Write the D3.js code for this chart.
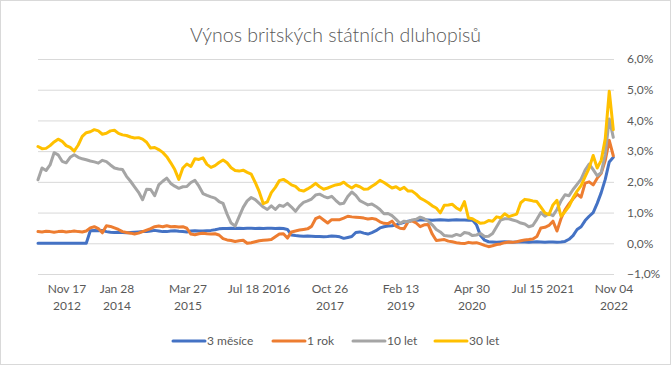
<!DOCTYPE html>
<html>
<head>
<meta charset="utf-8">
<script src="https://cdn.jsdelivr.net/npm/d3@7"></script>
<style>
  body { margin: 0; background: #fff; }
  svg { display: block; font-family: Lato, "Open Sans", sans-serif; }
</style>
</head>
<body>
<svg id="chart" width="671" height="365"></svg>
<script>
// samples are taken every 17 trading days; the first label sits 34 days in
const sampleStep = 17;
const firstLabelDay = 34;
const labelStep = 300;
const totalDays = 2434;

const xLabels = [
  ['Nov 17', '2012'], ['Jan 28', '2014'], ['Mar 27', '2015'], ['Jul 18 2016'],
  ['Oct 26', '2017'], ['Feb 13', '2019'], ['Apr 30', '2020'], ['Jul 15 2021'],
  ['Nov 04', '2022'],
];
const yTicks = [-1, 0, 1, 2, 3, 4, 5, 6];

const seriesNames = ['3 měsíce', '1 rok', '10 let', '30 let'];
const seriesColors = ['#4472C4', '#ED7D31', '#A5A5A5', '#FFC000'];

// výnos v %
const m3 = [
  0, 0, 0, 0, 0, 0, 0, 0, 0, 0, 0, 0, 0, 0.41, 0.42, 0.41, 0.42, 0.38, 0.36, 0.35,
  0.36, 0.35, 0.34, 0.35, 0.36, 0.37, 0.38, 0.38, 0.40, 0.42, 0.40, 0.38, 0.38, 0.40, 0.41, 0.39,
  0.38, 0.37, 0.40, 0.41, 0.40, 0.40, 0.41, 0.42, 0.44, 0.47, 0.48, 0.48, 0.49, 0.48, 0.49, 0.48,
  0.49, 0.49, 0.48, 0.49, 0.48, 0.49, 0.49, 0.48, 0.49, 0.48, 0.45, 0.27, 0.25, 0.24, 0.23, 0.24,
  0.23, 0.22, 0.22, 0.21, 0.22, 0.24, 0.23, 0.21, 0.16, 0.19, 0.22, 0.35, 0.37, 0.33, 0.30, 0.35,
  0.41, 0.50, 0.54, 0.56, 0.57, 0.60, 0.64, 0.68, 0.72, 0.74, 0.75, 0.76, 0.77, 0.76, 0.75, 0.76,
  0.77, 0.76, 0.75, 0.76, 0.77, 0.76, 0.76, 0.75, 0.76, 0.60, 0.25, 0.10, 0.05, 0.04, 0.03, 0.04,
  0.05, 0.04, 0.03, 0.04, 0.05, 0.04, 0.03, 0.04, 0.05, 0.04, 0.03, 0.04, 0.04, 0.03, 0.04, 0.06,
  0.13, 0.25, 0.45, 0.54, 0.74, 0.88, 1.00, 1.30, 1.65, 2.08, 2.65, 2.80,
];
const y1 = [
  0.38, 0.37, 0.39, 0.38, 0.36, 0.38, 0.39, 0.37, 0.38, 0.40, 0.38, 0.37, 0.40, 0.50, 0.54, 0.48,
  0.34, 0.57, 0.55, 0.50, 0.45, 0.38, 0.35, 0.33, 0.30, 0.33, 0.38, 0.43, 0.48, 0.54, 0.56, 0.54,
  0.57, 0.54, 0.55, 0.53, 0.54, 0.49, 0.30, 0.28, 0.31, 0.33, 0.31, 0.30, 0.31, 0.27, 0.15, 0.11,
  0.09, 0.06, 0.08, 0.10, 0.00, 0.02, 0.05, 0.08, 0.10, 0.11, 0.12, 0.21, 0.30, 0.31, 0.17, 0.37,
  0.40, 0.43, 0.45, 0.47, 0.55, 0.80, 0.86, 0.76, 0.66, 0.77, 0.77, 0.77, 0.82, 0.88, 0.86, 0.85,
  0.84, 0.82, 0.79, 0.81, 0.78, 0.70, 0.65, 0.64, 0.72, 0.56, 0.49, 0.47, 0.70, 0.73, 0.66, 0.54,
  0.60, 0.61, 0.30, 0.09, 0.11, 0.12, 0.07, 0.05, 0.02, 0.00, -0.01, 0.03, 0.01, 0.02, -0.02, -0.07,
  -0.11, -0.08, -0.04, -0.02, 0.02, 0.04, 0.03, 0.05, 0.08, 0.11, 0.12, 0.14, 0.22, 0.50, 0.52, 0.58,
  0.72, 0.40, 0.80, 1.09, 1.28, 1.45, 1.60, 1.50, 1.96, 2.00, 1.90, 2.12, 2.28, 2.70, 3.35, 2.85,
];
const y10 = [
  2.07, 2.45, 2.37, 2.55, 2.95, 2.88, 2.67, 2.62, 2.80, 2.88, 2.80, 2.75, 2.72, 2.68, 2.65, 2.61,
  2.70, 2.66, 2.55, 2.45, 2.42, 2.40, 2.18, 2.02, 1.84, 1.66, 1.42, 1.76, 1.75, 1.55, 1.90, 2.02,
  2.12, 1.95, 1.86, 1.79, 1.84, 1.85, 1.98, 2.05, 1.86, 1.62, 1.56, 1.51, 1.47, 1.36, 1.30, 0.95,
  0.66, 0.56, 0.87, 1.17, 1.38, 1.49, 1.42, 1.30, 1.18, 1.10, 1.22, 1.10, 1.24, 1.20, 1.30, 1.18,
  1.04, 1.21, 1.33, 1.38, 1.44, 1.57, 1.60, 1.53, 1.48, 1.53, 1.40, 1.28, 1.30, 1.52, 1.67, 1.56,
  1.39, 1.32, 1.25, 1.28, 1.20, 1.10, 0.96, 0.97, 0.90, 0.78, 0.65, 0.72, 0.70, 0.76, 0.78, 0.85,
  0.80, 0.72, 0.60, 0.45, 0.37, 0.25, 0.24, 0.23, 0.29, 0.25, 0.35, 0.33, 0.25, 0.27, 0.32, 0.22,
  0.23, 0.32, 0.54, 0.76, 0.80, 0.80, 0.76, 0.72, 0.66, 0.63, 0.54, 0.58, 0.78, 1.00, 0.88, 0.96,
  0.90, 1.10, 1.38, 1.58, 1.55, 1.75, 1.92, 2.09, 2.38, 2.58, 2.40, 2.20, 2.30, 2.90, 4.05, 3.45,
];
const y30 = [
  3.15, 3.08, 3.09, 3.18, 3.30, 3.39, 3.32, 3.18, 3.12, 3.00, 3.20, 3.48, 3.60, 3.63, 3.70, 3.66,
  3.55, 3.58, 3.66, 3.68, 3.58, 3.53, 3.51, 3.46, 3.43, 3.44, 3.39, 3.29, 3.10, 3.12, 3.05, 2.96,
  2.82, 2.62, 2.40, 2.08, 2.45, 2.58, 2.50, 2.75, 2.73, 2.78, 2.57, 2.47, 2.53, 2.63, 2.71, 2.62,
  2.46, 2.37, 2.35, 2.38, 2.31, 2.25, 1.98, 1.68, 1.29, 1.35, 1.65, 1.82, 2.04, 2.08, 2.00, 1.90,
  1.85, 1.73, 1.70, 1.77, 1.85, 1.95, 1.84, 1.76, 1.80, 1.85, 1.90, 1.92, 1.99, 1.88, 1.80, 1.89,
  1.84, 1.76, 1.77, 1.86, 1.94, 2.05, 1.98, 1.89, 1.80, 1.84, 1.75, 1.82, 1.70, 1.70, 1.60, 1.47,
  1.40, 1.32, 1.22, 1.15, 0.99, 1.24, 1.25, 1.27, 1.15, 1.08, 1.36, 0.82, 0.80, 0.72, 0.65, 0.67,
  0.74, 0.72, 0.86, 0.83, 0.96, 0.87, 0.91, 0.95, 1.32, 1.43, 1.41, 1.38, 1.36, 1.18, 0.99, 0.93,
  1.25, 1.40, 0.88, 1.03, 1.20, 1.48, 1.70, 1.88, 2.17, 2.45, 2.86, 2.45, 2.70, 3.40, 4.95, 3.70,
];
const seriesValues = [m3, y1, y10, y30];

const width = 671;
const height = 365;
const plot = { left: 38, right: 614, top: 59, bottom: 274 };

const svg = d3.select('#chart');

svg
  .append('rect')
  .attr('x', 0.5)
  .attr('y', 0.5)
  .attr('width', width - 1)
  .attr('height', height - 1)
  .attr('fill', '#fff')
  .attr('stroke', '#d9d9d9');

svg
  .append('text')
  .attr('x', width / 2)
  .attr('y', 42)
  .attr('text-anchor', 'middle')
  .attr('fill', '#595959')
  .attr('font-size', 19.5)
  .attr('font-weight', 300)
  .text('Výnos britských státních dluhopisů');

const x = d3.scaleLinear().domain([0, totalDays]).range([plot.left, plot.right]);
const y = d3.scaleLinear().domain([-1, 6]).range([plot.bottom, plot.top]);

const locale = d3.formatLocale({ decimal: ',', thousands: ' ', grouping: [3], currency: ['', ''] });
const pct = locale.format('.1f');

const yAxis = svg
  .append('g')
  .attr('transform', `translate(${plot.right},0)`)
  .call(
    d3
      .axisRight(y)
      .tickValues(yTicks)
      .tickSize(-(plot.right - plot.left))
      .tickPadding(13)
      .tickFormat((d) => pct(d) + '%')
  );
yAxis.select('.domain').remove();
yAxis.selectAll('line').attr('stroke', '#d9d9d9');
yAxis
  .selectAll('text')
  .attr('fill', '#595959')
  .attr('font-size', 12)
  .attr('font-family', 'Lato, sans-serif');

// popisky osy x
const xLab = svg
  .append('g')
  .selectAll('text')
  .data(xLabels)
  .join('text')
  .attr('x', (d, i) => x(firstLabelDay + i * labelStep))
  .attr('y', 293)
  .attr('text-anchor', 'middle')
  .attr('fill', '#595959')
  .attr('font-size', 12);
xLab
  .selectAll('tspan')
  .data((d, i) => d.map((t) => ({ t, i })))
  .join('tspan')
  .attr('x', (d) => x(firstLabelDay + d.i * labelStep))
  .attr('dy', (d, j) => (j === 0 ? 0 : 17))
  .text((d) => d.t);
// první popisek Excel posune doprava, aby se vešel
xLab.filter((d, i) => i === 0).selectAll('tspan').attr('x', 67);

const line = d3
  .line()
  .x((d, i) => x(i * sampleStep))
  .y((d) => y(d));

const lines = svg.append('g').attr('fill', 'none');
seriesValues.forEach((vals, s) => {
  lines
    .append('path')
    .datum(vals)
    .attr('d', line)
    .attr('stroke', seriesColors[s])
    .attr('stroke-width', 3)
    .attr('stroke-linejoin', 'round')
    .attr('stroke-linecap', 'round');
});

// legenda
const legendX = [173, 273, 353, 435];
const legend = svg
  .append('g')
  .selectAll('g')
  .data(seriesNames)
  .join('g')
  .attr('transform', (d, i) => `translate(${legendX[i]},341)`);
legend
  .append('line')
  .attr('x1', 0)
  .attr('x2', 32)
  .attr('stroke', (d, i) => seriesColors[i])
  .attr('stroke-width', 3)
  .attr('stroke-linecap', 'round');
legend
  .append('text')
  .attr('x', 34)
  .attr('y', 4)
  .attr('fill', '#595959')
  .attr('font-size', 12)
  .text((d) => d);
</script>
</body>
</html>
